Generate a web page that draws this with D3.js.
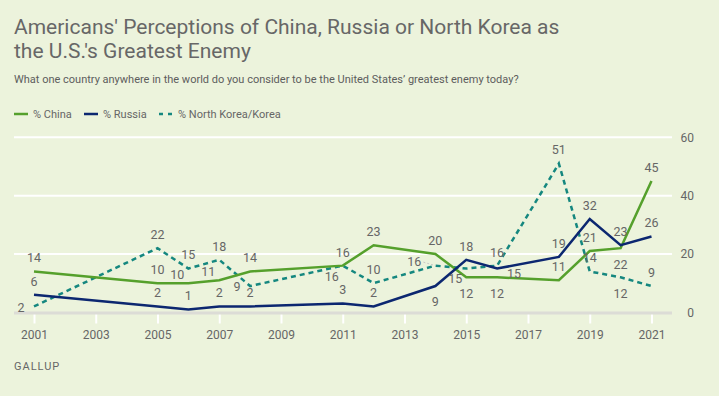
<!DOCTYPE html>
<html>
<head>
<meta charset="utf-8">
<script src="https://cdn.jsdelivr.net/npm/d3@7"></script>
<style>
  body { margin: 0; background: #ecf3dc; }
  text { font-family: Roboto, "Liberation Sans", sans-serif; fill: #666; }
</style>
</head>
<body>
<div class="chart"></div>
<script>
// chart data
let years = [2001, 2005, 2006, 2007, 2008, 2011, 2012, 2014, 2015, 2016, 2018, 2019, 2020, 2021];
let china = [14, 10, 10, 11, 14, 16, 23, 20, 12, 12, 11, 21, 22, 45];
let russia = [6, 2, 1, 2, 2, 3, 2, 9, 18, 15, 19, 32, 23, 26];
let northKorea = [2, 22, 15, 18, 9, 16, 10, 16, 15, 16, 51, 14, 12, 9];
let yTicks = [0, 20, 40, 60];
let xTicks = [2001, 2003, 2005, 2007, 2009, 2011, 2013, 2015, 2017, 2019, 2021];

// where each point label sits (a = above, b = below, l = left ...)
let chinaPlace = ["a", "a", "al", "al", "a", "a", "a", "a", "b", "b", "a", "a", "b", "a"];
let russiaPlace = ["a", "a", "a", "a", "a", "a", "a", "b", "a", "br", "a", "a", "a", "a"];
let nkPlace = ["l", "a", "a", "a", "l", "bl", "a", "fl", "bl", "a", "a", "a", "b", "a"];

let offsets = {
  a: [0, -13.5], b: [0, 16], l: [-13, 1], al: [-11, -9],
  bl: [-11, 10.5], br: [17, 5], fl: [-21, -4.5]
};

let svgW = 719;
let svgH = 396;

let svg = d3.select(".chart")
  .append("svg")
  .attr("width", svgW)
  .attr("height", svgH);

svg.append("rect").attr("width", svgW).attr("height", svgH).attr("fill", "#ecf3dc");

// title + subtitle
svg.append("text").attr("x", 14).attr("y", 34)
  .style("font-size", "21px").style("fill", "#676767")
  .text("Americans' Perceptions of China, Russia or North Korea as");
svg.append("text").attr("x", 14).attr("y", 58)
  .style("font-size", "21px").style("fill", "#676767")
  .text("the U.S.'s Greatest Enemy");
svg.append("text").attr("x", 14).attr("y", 83)
  .style("font-size", "11px").style("fill", "#5d5d5d")
  .text("What one country anywhere in the world do you consider to be the United States’ greatest enemy today?");

// scales
let x = d3.scaleLinear().domain([2001, 2021]).range([34, 651.5]);
let y = d3.scaleLinear().domain([0, 60]).range([312.3, 137.3]);

// gridlines
svg.append("g").selectAll("line")
  .data(yTicks.filter(d => d > 0))
  .enter().append("line")
  .attr("x1", 14).attr("x2", 672)
  .attr("y1", d => y(d)).attr("y2", d => y(d))
  .attr("stroke", "#fff").attr("stroke-width", 2);

// right axis
let rightAxis = d3.axisRight(y).tickValues(yTicks).tickSize(0).tickPadding(0);
let yAxisG = svg.append("g").attr("transform", "translate(694,0)").call(rightAxis);
yAxisG.select(".domain").remove();
yAxisG.selectAll("text").attr("text-anchor", "end")
  .style("font-size", "12px").style("fill", "#666");

// bottom axis
let bottomAxis = d3.axisBottom(x).tickValues(xTicks).tickFormat(d3.format("d")).tickSize(10).tickPadding(7);
let xAxisG = svg.append("g").attr("transform", "translate(0,313.5)").call(bottomAxis);
xAxisG.select(".domain").remove();
xAxisG.selectAll(".tick line").attr("stroke", "#fff").attr("stroke-width", 2);
xAxisG.selectAll("text").style("font-size", "12px").style("fill", "#666");
svg.append("line")
  .attr("x1", 14).attr("x2", 672).attr("y1", 313).attr("y2", 313)
  .attr("stroke", "#dcdcd6").attr("stroke-width", 3);

// series
let series = [
  { name: "% China", values: china, place: chinaPlace, color: "#55a02c", dash: null },
  { name: "% Russia", values: russia, place: russiaPlace, color: "#0c2770", dash: null },
  { name: "% North Korea/Korea", values: northKorea, place: nkPlace, color: "#15877f", dash: "5,4" }
];

let line = d3.line()
  .x(d => x(d.year))
  .y(d => y(d.v));

// dashed line goes underneath the solid ones
let order = [2, 0, 1];
order.forEach(function(i) {
  let s = series[i];
  let pts = years.map((yr, j) => ({ year: yr, v: s.values[j] }));
  svg.append("path")
    .datum(pts)
    .attr("d", line)
    .attr("fill", "none")
    .attr("stroke", s.color)
    .attr("stroke-width", 2.5)
    .attr("stroke-dasharray", s.dash);
});

// leader line for the 2014 North Korea label
let iLead = years.indexOf(2014);
svg.append("line")
  .attr("x1", x(2014) + offsets.fl[0] + 9).attr("y1", y(northKorea[iLead]) + offsets.fl[1] + 1)
  .attr("x2", x(2014)).attr("y2", y(northKorea[iLead]))
  .attr("stroke", "#c8c8c8").attr("stroke-width", 1).attr("stroke-dasharray", "2,2");

// point labels
series.forEach(function(s) {
  svg.append("g").selectAll("text")
    .data(years)
    .enter().append("text")
    .attr("x", (d, j) => x(d) + offsets[s.place[j]][0])
    .attr("y", (d, j) => y(s.values[j]) + offsets[s.place[j]][1])
    .attr("dy", "0.35em")
    .attr("text-anchor", "middle")
    .style("font-size", "12.5px")
    .style("fill", "#666")
    .text((d, j) => s.values[j]);
});

// legend
let legendX = [14, 84, 159];
series.forEach(function(s, i) {
  svg.append("line")
    .attr("x1", legendX[i]).attr("x2", legendX[i] + 14)
    .attr("y1", 114).attr("y2", 114)
    .attr("stroke", s.color).attr("stroke-width", 2.5)
    .attr("stroke-dasharray", s.dash ? "4,5" : null);
  svg.append("text")
    .attr("x", legendX[i] + 19).attr("y", 114).attr("dy", "0.35em")
    .style("font-size", "11px").style("fill", "#666")
    .text(s.name);
});

// source
svg.append("text").attr("x", 14).attr("y", 370)
  .style("font-size", "11px").style("letter-spacing", "1px").style("fill", "#666")
  .text("GALLUP");
</script>
</body>
</html>
